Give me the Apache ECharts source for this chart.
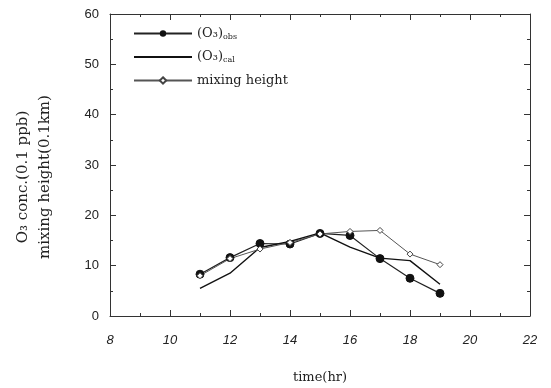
<!DOCTYPE html>
<html><head><meta charset="utf-8">
<script src="https://cdn.jsdelivr.net/npm/echarts@6/dist/echarts.min.js"></script>
<style>html,body{margin:0;padding:0;background:#fff}#c{width:551px;height:388px}</style>
</head><body><div id="c"></div>
<script>
const hours = [11, 12, 13, 14, 15, 16, 17, 18, 19];
const obs = [8.3, 11.6, 14.4, 14.3, 16.4, 16.0, 11.4, 7.5, 4.5];
const cal = [5.5, 8.5, 13.6, 14.8, 16.5, 13.7, 11.5, 11.0, 6.3];
const mixing = [8.0, 11.4, 13.3, 14.6, 16.3, 16.8, 17.0, 12.3, 10.2];
const xTicks = [8, 22, 2];
const yTicks = [0, 60, 10];

const chart = echarts.init(document.getElementById('c'));
const pair = (arr) => hours.map((h, i) => [h, arr[i]]);
const axisCommon = {
  axisLine: {show: true, onZero: false, lineStyle: {color: '#333', width: 1}},
  axisTick: {show: true, inside: true, length: 6, lineStyle: {color: '#333'}},
  minorTick: {show: true, splitNumber: 2, length: 3, lineStyle: {color: '#333'}},
  splitLine: {show: false}
};
const serif = 'DejaVu Serif';
chart.setOption({
  animation: false,
  grid: {left: 110, right: 21, top: 14, bottom: 72, outerBoundsMode: 'none', containLabel: false},
  xAxis: [
    Object.assign({type: 'value', min: xTicks[0], max: xTicks[1], interval: xTicks[2], position: 'bottom',
      name: 'time(hr)', nameLocation: 'middle', nameGap: 55,
      nameTextStyle: {fontFamily: serif, fontSize: 13, color: '#222'},
      axisLabel: {fontFamily: 'Liberation Sans', fontStyle: 'italic', fontSize: 13, color: '#222', margin: 18}}, axisCommon),
    Object.assign({type: 'value', min: xTicks[0], max: xTicks[1], interval: xTicks[2], position: 'top',
      axisLabel: {show: false}}, axisCommon)
  ],
  yAxis: [
    Object.assign({type: 'value', min: yTicks[0], max: yTicks[1], interval: yTicks[2], position: 'left',
      axisLabel: {fontFamily: 'Liberation Sans', fontSize: 13, color: '#222', margin: 11}}, axisCommon),
    Object.assign({type: 'value', min: yTicks[0], max: yTicks[1], interval: yTicks[2], position: 'right',
      axisLabel: {show: false}}, axisCommon)
  ],
  legend: {
    left: 128, top: 22, orient: 'vertical', itemWidth: 58, itemHeight: 8, itemGap: 10,
    textStyle: {fontFamily: serif, fontSize: 13, color: '#222',
      rich: {s: {fontFamily: serif, fontSize: 8, color: '#222', verticalAlign: 'bottom', padding: [6, 0, 0, 0]},
             n: {fontFamily: serif, fontSize: 13, color: '#222'}}},
    formatter: function (name) {
      if (name === 'obs') return '{n|(O₃)}{s|obs}';
      if (name === 'cal') return '{n|(O₃)}{s|cal}';
      return '{n|mixing height}';
    },
    data: ['obs', {name: 'cal', itemStyle: {opacity: 0}}, 'mixing']
  },
  graphic: [
    {type: 'group', x: 24, y: 177, rotation: Math.PI / 2, children: [
      {type: 'text', style: {text: 'O₃ conc.(0.1 ppb)', x: 0, y: -1, font: '15px "DejaVu Serif"', fill: '#222', align: 'center', verticalAlign: 'middle'}},
      {type: 'text', style: {text: 'mixing height(0.1km)', x: 0, y: 21, font: '15px "DejaVu Serif"', fill: '#222', align: 'center', verticalAlign: 'middle'}}
    ]}
  ],
  series: [
    {name: 'obs', type: 'line', data: pair(obs), symbol: 'circle', symbolSize: 8,
      lineStyle: {color: '#222', width: 1.2}, itemStyle: {color: '#111', borderColor: '#111'}},
    {name: 'cal', type: 'line', data: pair(cal), symbol: 'none', showSymbol: false,
      lineStyle: {color: '#111', width: 1.4}, itemStyle: {color: '#111'}},
    {name: 'mixing', type: 'line', data: pair(mixing), symbol: 'diamond', symbolSize: 6,
      lineStyle: {color: '#555', width: 1}, itemStyle: {color: '#fff', borderColor: '#444', borderWidth: 1}}
  ]
});
</script>
</body></html>
